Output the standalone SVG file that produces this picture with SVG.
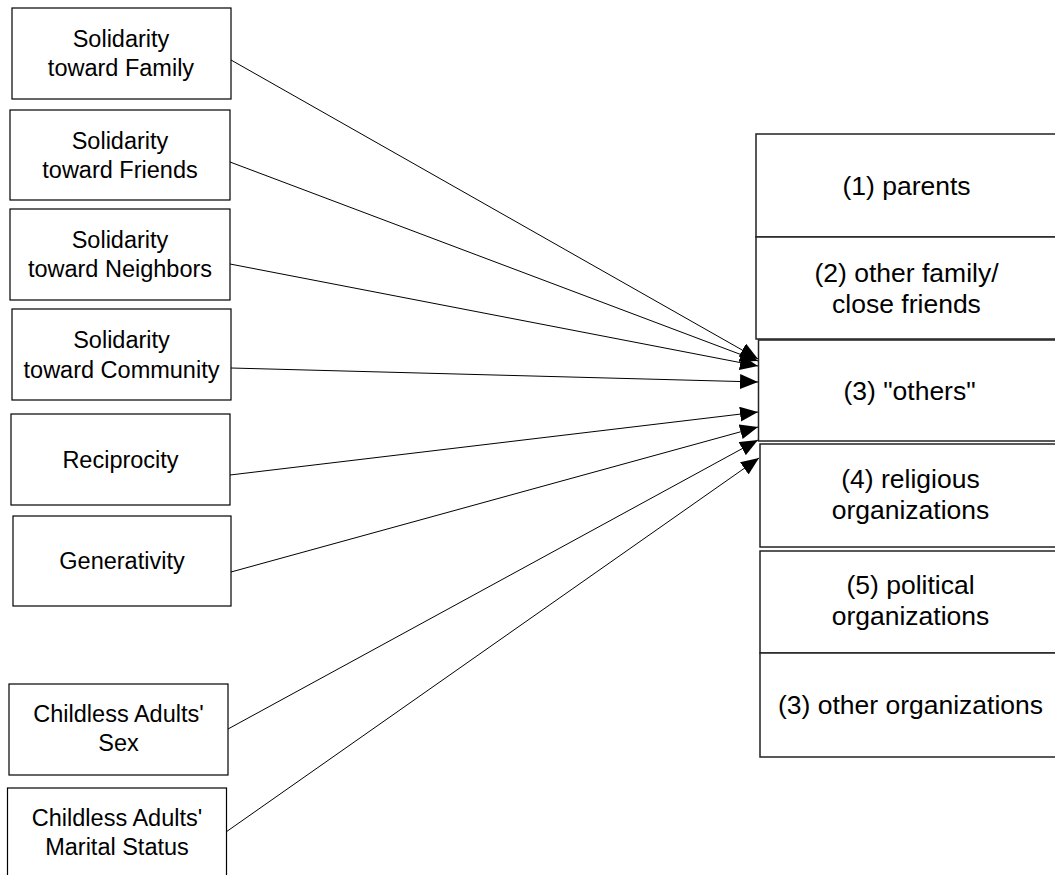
<svg xmlns="http://www.w3.org/2000/svg" width="1055" height="875" viewBox="0 0 1055 875">
<style>
.box{fill:#fff;stroke:#000;stroke-width:1.2}
.rbox{fill:#fff;stroke:#222;stroke-width:1.5}
.lt{font-family:"Liberation Sans",Arial,sans-serif;font-size:23.5px;fill:#000;text-anchor:middle}
.rt{font-family:"Liberation Sans",Arial,sans-serif;font-size:26.5px;fill:#000;text-anchor:middle}
.con{stroke:#000;stroke-width:1;fill:none;marker-end:url(#ah)}
</style>
<defs>
<marker id="ah" markerUnits="userSpaceOnUse" markerWidth="18" markerHeight="15" refX="18" refY="7.5" orient="auto">
<path d="M0,0 L18,7.5 L0,15 Z" fill="#000"/>
</marker>
</defs>
<rect width="1055" height="875" fill="#fff"/>
<g id="connectors">
<line class="con" x1="231" y1="60" x2="758" y2="359"/>
<line class="con" x1="230" y1="162" x2="758" y2="361"/>
<line class="con" x1="230" y1="264" x2="758" y2="366"/>
<line class="con" x1="231" y1="368" x2="758" y2="382"/>
<line class="con" x1="230" y1="475" x2="758" y2="412"/>
<line class="con" x1="231" y1="572" x2="758" y2="427"/>
<line class="con" x1="228" y1="729" x2="758" y2="440"/>
<line class="con" x1="226" y1="832" x2="759" y2="458"/>
</g>
<g id="n_family"><rect class="box" x="12" y="8" width="219" height="91"/><text class="lt" x="121" y="47">Solidarity</text><text class="lt" x="121" y="76">toward Family</text></g>
<g id="n_friends"><rect class="box" x="10" y="110" width="220" height="90"/><text class="lt" x="120" y="148.5">Solidarity</text><text class="lt" x="120" y="178">toward Friends</text></g>
<g id="n_neighbors"><rect class="box" x="10" y="209" width="220" height="91"/><text class="lt" x="120" y="248">Solidarity</text><text class="lt" x="120" y="277">toward Neighbors</text></g>
<g id="n_community"><rect class="box" x="12" y="309" width="219" height="91"/><text class="lt" x="121.5" y="348">Solidarity</text><text class="lt" x="121.5" y="377.5">toward Community</text></g>
<g id="n_reciprocity"><rect class="box" x="11" y="414" width="219" height="91"/><text class="lt" x="120.5" y="467.5">Reciprocity</text></g>
<g id="n_generativity"><rect class="box" x="13" y="516" width="218" height="90"/><text class="lt" x="122" y="569">Generativity</text></g>
<g id="n_sex"><rect class="box" x="9" y="684" width="219" height="91"/><text class="lt" x="118.5" y="722">Childless Adults'</text><text class="lt" x="118.5" y="751">Sex</text></g>
<g id="n_marital"><rect class="box" x="7.5" y="788" width="219" height="92"/><text class="lt" x="117" y="825.5">Childless Adults'</text><text class="lt" x="117" y="854.5">Marital Status</text></g>
<g id="r_parents"><rect class="rbox" x="756" y="134" width="301" height="103"/><text class="rt" x="906.5" y="194.5">(1) parents</text></g>
<g id="r_family"><rect class="rbox" x="756" y="237" width="301" height="102"/><text class="rt" x="906.5" y="282">(2) other family/</text><text class="rt" x="906.5" y="313">close friends</text></g>
<g id="r_others"><rect class="rbox" x="758.5" y="340" width="302" height="101"/><text class="rt" x="909.5" y="399.5">(3) "others"</text></g>
<g id="r_religious"><rect class="rbox" x="760" y="444" width="302" height="103"/><text class="rt" x="910.5" y="488">(4) religious</text><text class="rt" x="910.5" y="519">organizations</text></g>
<g id="r_political"><rect class="rbox" x="760" y="551" width="302" height="102"/><text class="rt" x="910.5" y="594">(5) political</text><text class="rt" x="910.5" y="625">organizations</text></g>
<g id="r_otherorg"><rect class="rbox" x="760" y="653" width="302" height="104"/><text class="rt" x="910.5" y="714">(3) other organizations</text></g>
</svg>
